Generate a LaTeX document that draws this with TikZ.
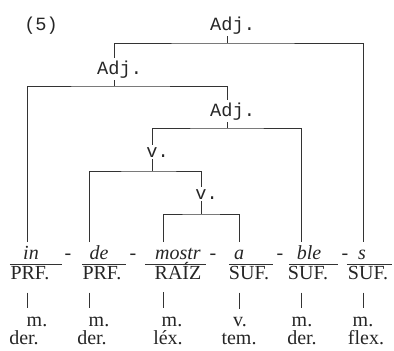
\documentclass[tikz,border=0pt]{standalone}
\usepackage{fontspec}
\setmainfont{Liberation Serif}
\setmonofont{Liberation Mono}
\usetikzlibrary{positioning}
\tikzset{
  catlabel/.style={font=\ttfamily\fontsize{14}{16}\selectfont, text=black!85, inner sep=1.5pt, anchor=base},
  morph/.style={font=\itshape\fontsize{15}{16}\selectfont, text=black!85, inner sep=0pt, text depth=4pt, anchor=base},
  glosstext/.style={font=\fontsize{15}{16}\selectfont, text=black!85, inner sep=0pt, anchor=base},
  treeline/.style={draw=black!80, line width=0.7pt}
}

\begin{document}
\begin{tikzpicture}[x=0.75pt, y=-0.75pt]
    \useasboundingbox (0,0) rectangle (394,351);
    % tree labels
    \node[catlabel, anchor=base west] (num) at (22,30) {(5)};
    \node[catlabel] (adjA) at (227,30) {Adj\rlap{.}};
    \node[catlabel] (adjB) at (114,74) {Adj\rlap{.}};
    \node[catlabel] (adjC) at (227,116) {Adj\rlap{.}};
    \node[catlabel] (vA) at (152,157) {v\rlap{.}};
    \node[catlabel] (vB) at (201,199) {v\rlap{.}};
    % joints and column tops
    \coordinate (jA) at (227,43);
    \coordinate (jB) at (114,86);
    \coordinate (jC) at (227,128);
    \coordinate (jD) at (152,171);
    \coordinate (jE) at (201,214);
    \coordinate (cIn) at (27,242);
    \coordinate (cDe) at (89,242);
    \coordinate (cMostr) at (163,242);
    \coordinate (cA) at (239,242);
    \coordinate (cBle) at (301,242);
    \coordinate (cS) at (363,242);
    % morphemes
    \node[morph] (wIn) at (31,259) {in};
    \node[morph] (wDe) at (99,259) {de};
    \node[morph] (wMostr) at (178,259) {mostr};
    \node[morph] (wA) at (239,259) {a};
    \node[morph] (wBle) at (309,259) {ble};
    \node[morph] (wS) at (362,259) {s};
    \node[glosstext] (h1) at (68,259) {-};
    \node[glosstext] (h2) at (133,259) {-};
    \node[glosstext] (h3) at (213,259) {-};
    \node[glosstext] (h4) at (280,259) {-};
    \node[glosstext] (h5) at (345,259) {-};
    \node[glosstext] (kIn) at (30,279) {PRF.};
    \node[glosstext] (kDe) at (102,279) {PRF.};
    \node[glosstext] (kMostr) at (178,279) {RAÍZ};
    \node[glosstext] (kA) at (249,279) {SUF.};
    \node[glosstext] (kBle) at (308,279) {SUF.};
    \node[glosstext] (kS) at (368,279) {SUF.};
    % glosses
    \node[glosstext] (gmIn) at (37,326) {m.};
    \node[glosstext] (gdIn) at (24,344) {der.};
    \node[glosstext] (gmDe) at (99,326) {m.};
    \node[glosstext] (gdDe) at (92,344) {der.};
    \node[glosstext] (gmMostr) at (172,326) {m.};
    \node[glosstext] (gdMostr) at (168,344) {léx.};
    \node[glosstext] (gmA) at (240,326) {v.};
    \node[glosstext] (gdA) at (239,344) {tem.};
    \node[glosstext] (gmBle) at (302,326) {m.};
    \node[glosstext] (gdBle) at (302,344) {der.};
    \node[glosstext] (gmS) at (363,326) {m.};
    \node[glosstext] (gdS) at (366,344) {flex.};

    % branches
    \draw[treeline] (adjA.south) -- (jA);
    \draw[treeline] (adjB.north) |- (jA) -| (cS);
    \draw[treeline] (adjB.south) -- (jB);
    \draw[treeline] (cIn) |- (jB) -| (adjC.north);
    \draw[treeline] (adjC.south) -- (jC);
    \draw[treeline] (vA.north) |- (jC) -| (cBle);
    \draw[treeline] (vA.south) -- (jD);
    \draw[treeline] (cDe) |- (jD) -| (vB.north);
    \draw[treeline] (vB.south) -- (jE);
    \draw[treeline] (cMostr) |- (jE) -| (cA);
    % rules under the morphemes
    \draw[treeline] ([xshift=-15.75pt]wIn.south) -- ([xshift=23.25pt]wIn.south);
    \draw[treeline] ([xshift=-12.75pt]wDe.south) -- ([xshift=20.25pt]wDe.south);
    \draw[treeline] ([xshift=-24.75pt]wMostr.south) -- ([xshift=21pt]wMostr.south);
    \draw[treeline] ([xshift=-7.5pt]wA.south) -- ([xshift=25.5pt]wA.south);
    \draw[treeline] ([xshift=-15pt]wBle.south) -- ([xshift=21.75pt]wBle.south);
    \draw[treeline] ([xshift=-11.25pt]wS.south) -- ([xshift=22.5pt]wS.south);
    % links to the glosses
    \draw[treeline, shorten <=9.75pt, shorten >=6pt] (kIn.south -| cIn) -- (gmIn.north -| cIn);
    \draw[treeline, shorten <=9.75pt, shorten >=6pt] (kDe.south -| cDe) -- (gmDe.north -| cDe);
    \draw[treeline, shorten <=9.75pt, shorten >=6pt] (kMostr.south -| cMostr) -- (gmMostr.north -| cMostr);
    \draw[treeline, shorten <=9.75pt, shorten >=6pt] (kA.south -| cA) -- (gmA.north -| cA);
    \draw[treeline, shorten <=9.75pt, shorten >=6pt] (kBle.south -| cBle) -- (gmBle.north -| cBle);
    \draw[treeline, shorten <=9.75pt, shorten >=6pt] (kS.south -| cS) -- (gmS.north -| cS);
  \end{tikzpicture}
\end{document}
